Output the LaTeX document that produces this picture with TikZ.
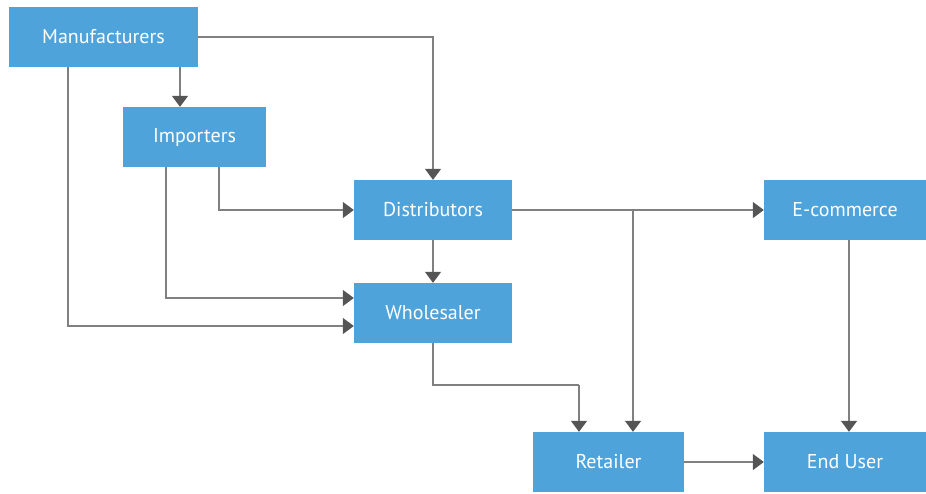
\documentclass[tikz,border=0pt]{standalone}
\usepackage{fontspec}
\setmainfont{PT Sans}
\usetikzlibrary{arrows.meta}
\definecolor{boxblue}{HTML}{4FA3DB}
\definecolor{linegray}{HTML}{808080}
\definecolor{tipgray}{HTML}{555555}
\begin{document}
\begin{tikzpicture}[x=1pt,y=-1pt,
        block/.style={fill=boxblue,text=white,inner sep=0pt,minimum height=60pt,font=\fontsize{20}{24}\selectfont},
        link/.style={draw=linegray,line width=1.6pt,-{Triangle[width=16pt,length=11pt,color=tipgray]}},
        plain/.style={draw=linegray,line width=1.6pt}]
        \useasboundingbox (0,0) rectangle (926,493);

        \node[block, minimum width=189pt] (man) at (103.5,37) {Manufacturers};
        \node[block, minimum width=143pt] (imp) at (194.5,137) {Importers};
        \node[block, minimum width=158pt] (dis) at (433,210) {Distributors};
        \node[block, minimum width=158pt] (who) at (433,313) {Wholesaler};
        \node[block, minimum width=162pt] (eco) at (845,210) {E-commerce};
        \node[block, minimum width=151pt] (ret) at (608.5,462) {Retailer};
        \node[block, minimum width=162pt] (end) at (845,462) {End User};

        \path[link] (man.east) -| (dis.north);
        \path[link] (man.south -| 180,0) -- (imp.north -| 180,0);
        \path[link] (man.south -| 68,0) |- (who.west |- 0,326);
        \path[link] (imp.south -| 166,0) |- (who.west |- 0,298);
        \path[link] (imp.south -| 219,0) |- (dis.west);
        \path[link] (dis) -- (who);
        \path[link] (dis.east) -- (eco.west);
        \path[link] (dis.east -| 633,0) -- (ret.north -| 633,0);
        \path[plain] (who.south) -- (who.south |- 0,385) -- (579,385);
        \path[link] (579,385) -- (ret.north -| 579,0);
        \path[link] (eco.south -| 849,0) -- (end.north -| 849,0);
        \path[link] (ret) -- (end);
    \end{tikzpicture}
\end{document}
